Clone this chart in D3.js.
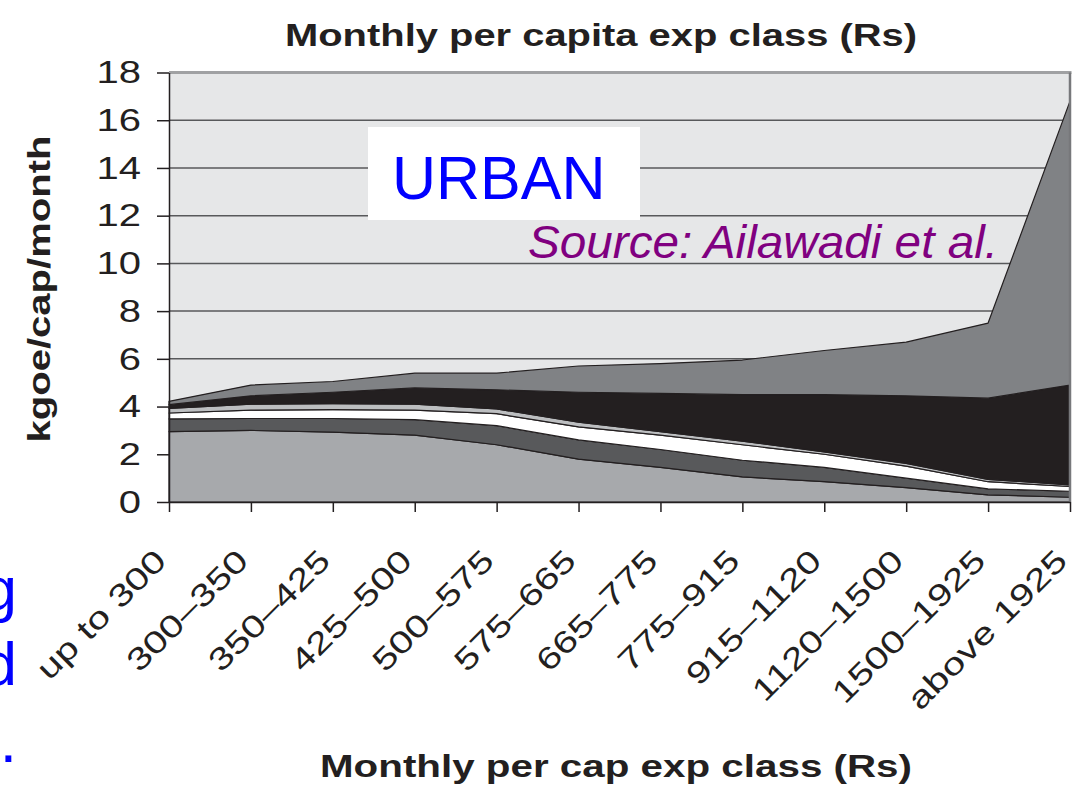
<!DOCTYPE html>
<html>
<head>
<meta charset="utf-8">
<script src="https://d3js.org/d3.v7.min.js"></script>
<style>
  body { margin: 0; background: #fff; }
  text { font-family: "Liberation Sans", Arial, sans-serif; }
</style>
</head>
<body>
<div id="chart"></div>
<script>
// expenditure classes (x axis)
const classes = ["up to 300", "300\u2013350", "350\u2013425", "425\u2013500", "500\u2013575", "575\u2013665",
  "665\u2013775", "775\u2013915", "915\u20131120", "1120\u20131500", "1500\u20131925", "above 1925"];

// stacked bands, bottom to top (kgoe/cap/month)
const band1 = [2.95, 3.0, 2.93, 2.8, 2.4, 1.8, 1.45, 1.05, 0.85, 0.6, 0.3, 0.2];
const band2 = [0.53, 0.5, 0.57, 0.65, 0.8, 0.8, 0.75, 0.7, 0.6, 0.4, 0.25, 0.25];
const band3 = [0.25, 0.35, 0.37, 0.4, 0.5, 0.55, 0.6, 0.65, 0.55, 0.5, 0.3, 0.2];
const band4 = [0.19, 0.25, 0.25, 0.25, 0.2, 0.2, 0.15, 0.15, 0.1, 0.12, 0.1, 0.07];
const band5 = [0.16, 0.35, 0.48, 0.68, 0.8, 1.25, 1.6, 1.95, 2.4, 2.83, 3.4, 4.18];
const band6 = [0.14, 0.45, 0.45, 0.62, 0.7, 1.1, 1.25, 1.45, 1.85, 2.25, 3.15, 11.9];

const yTicks = [0, 2, 4, 6, 8, 10, 12, 14, 16, 18];

const keys = ["band1", "band2", "band3", "band4", "band5", "band6"];
const fills = ["#a7a9ac", "#58595b", "#ffffff", "#bcbec0", "#231f20", "#808285"];

const table = classes.map((c, i) => ({
  cls: c, band1: band1[i], band2: band2[i], band3: band3[i],
  band4: band4[i], band5: band5[i], band6: band6[i]
}));

let width = 1077, height = 786;
let plot = {"left": 169, "right": 1070, "top": 72.5, "bottom": 502};
const ink = "#231f20";
const wide = 1.25; // the chart font is wider than Arial

function stretch(sel, k) {
  sel.each(function() {
    let l = this.getComputedTextLength();
    d3.select(this).attr("textLength", l * k).attr("lengthAdjust", "spacingAndGlyphs");
  });
}

let x = d3.scalePoint().domain(classes).range([plot.left, plot.right]);
let y = d3.scaleLinear().domain([0, 18]).range([plot.bottom, plot.top]);

const svg = d3.select("#chart")
  .append("svg")
  .attr("width", width)
  .attr("height", height);

svg.append("rect")
  .attr("x", plot.left)
  .attr("y", plot.top)
  .attr("width", plot.right - plot.left)
  .attr("height", plot.bottom - plot.top)
  .style("fill", "#e6e7e8");

// gridlines
svg.selectAll(".grid")
  .data(yTicks.filter(d => d > 0 && d < 18))
  .enter()
  .append("line")
  .attr("x1", plot.left)
  .attr("x2", plot.right)
  .attr("y1", d => y(d))
  .attr("y2", d => y(d))
  .style("stroke", "#58595b")
  .style("stroke-width", 1.5);

const stack = d3.stack().keys(keys);
const area = d3.area()
  .x(d => x(d.data.cls))
  .y0(d => y(d[0]))
  .y1(d => y(d[1]));

svg.selectAll(".band")
  .data(stack(table))
  .enter()
  .append("path")
  .attr("class", "band")
  .attr("d", area)
  .style("fill", (d, i) => fills[i])
  .style("stroke", ink)
  .style("stroke-width", 1.2)
  .style("stroke-linejoin", "round");

// frame top and right
svg.append("line")
  .attr("x1", plot.left).attr("x2", plot.right + 1.5)
  .attr("y1", y(18)).attr("y2", y(18))
  .style("stroke", "#a0a1a3").style("stroke-width", 3);
svg.append("line")
  .attr("x1", plot.right).attr("x2", plot.right)
  .attr("y1", y(18)).attr("y2", y(0))
  .style("stroke", "#77787b").style("stroke-width", 2.5);

// y axis
const yAxis = svg.append("g")
  .attr("transform", "translate(" + plot.left + ",0)")
  .call(d3.axisLeft(y).tickValues(yTicks).tickSize(12).tickSizeOuter(0).tickPadding(16));
yAxis.selectAll("path, line").style("stroke", ink).style("stroke-width", 1.5);
yAxis.selectAll("text")
  .style("font-size", "32px")
  .style("fill", ink)
  .call(stretch, wide);

// x axis
const xAxis = svg.append("g")
  .attr("transform", "translate(0," + plot.bottom + ")")
  .call(d3.axisBottom(x).tickSize(10).tickSizeOuter(0));
xAxis.selectAll("path, line").style("stroke", ink).style("stroke-width", 1.5);
xAxis.selectAll("text")
  .attr("x", 0)
  .attr("y", 0)
  .attr("dy", "0.35em")
  .attr("text-anchor", "end")
  .attr("transform", "translate(-9,53) rotate(-45)")
  .style("font-size", "31px")
  .style("fill", ink)
  .call(stretch, 1.3);

svg.append("text")
  .text("Monthly per capita exp class (Rs)")
  .attr("x", 601)
  .attr("y", 46)
  .attr("text-anchor", "middle")
  .attr("textLength", 632)
  .attr("lengthAdjust", "spacingAndGlyphs")
  .style("font-size", "32px")
  .style("font-weight", "bold")
  .style("fill", ink);

svg.append("text")
  .text("Monthly per cap exp class (Rs)")
  .attr("x", 616)
  .attr("y", 777)
  .attr("text-anchor", "middle")
  .attr("textLength", 592)
  .attr("lengthAdjust", "spacingAndGlyphs")
  .style("font-size", "32px")
  .style("font-weight", "bold")
  .style("fill", ink);

svg.append("text")
  .text("kgoe/cap/month")
  .attr("transform", "translate(50,289) rotate(-90)")
  .attr("text-anchor", "middle")
  .attr("textLength", 307)
  .attr("lengthAdjust", "spacingAndGlyphs")
  .style("font-size", "32px")
  .style("font-weight", "bold")
  .style("fill", ink);

// slide overlays
svg.append("rect")
  .attr("x", 368).attr("y", 127)
  .attr("width", 272).attr("height", 93)
  .style("fill", "#fff");
svg.append("text")
  .text("URBAN")
  .attr("x", 392)
  .attr("y", 199)
  .style("font-size", "61px")
  .style("fill", "#0000ff");
svg.append("text")
  .text("Source: Ailawadi et al.")
  .attr("x", 528)
  .attr("y", 258)
  .attr("textLength", 470)
  .attr("lengthAdjust", "spacingAndGlyphs")
  .style("font-size", "46px")
  .style("font-style", "italic")
  .style("fill", "#800080");

// cut-off slide text at the left edge
svg.selectAll(".cut")
  .data([["g", 610], ["d", 685], [".", 762]])
  .enter()
  .append("text")
  .text(d => d[0])
  .attr("x", 17)
  .attr("y", d => d[1])
  .attr("text-anchor", "end")
  .style("font-size", "62px")
  .style("fill", "#0000ff");
</script>
</body>
</html>
